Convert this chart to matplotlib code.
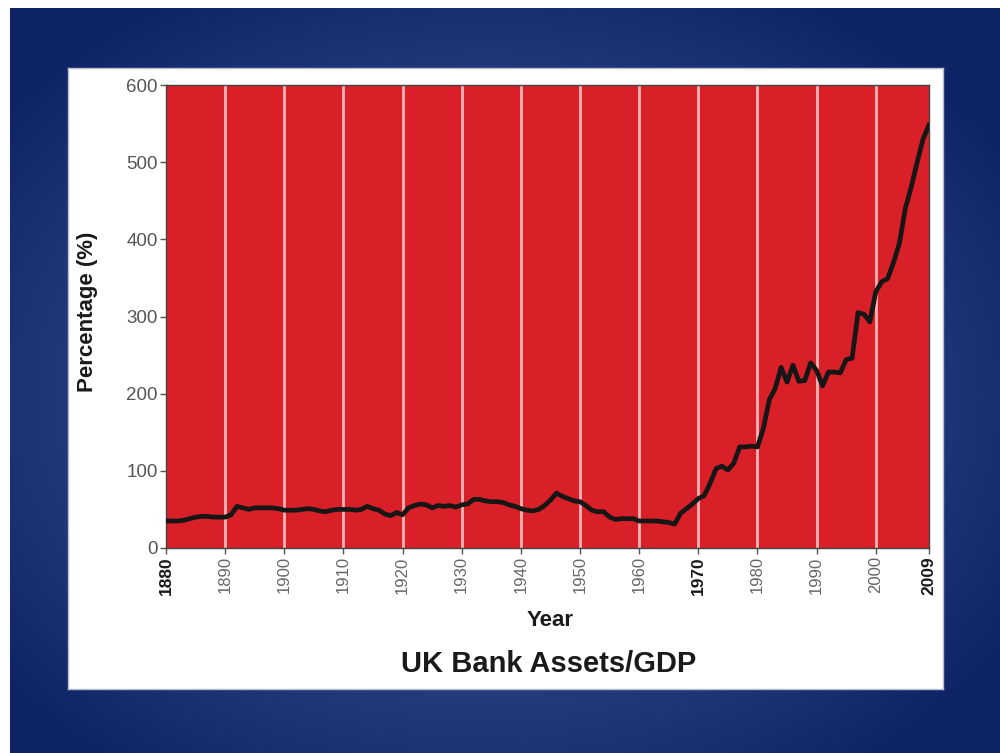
import numpy as np
import matplotlib
matplotlib.use("Agg")
import matplotlib.pyplot as plt

years = list(range(1880, 2010))
values = [
    35, 35, 35, 36, 38, 40, 41, 41, 40, 40,          # 1880-1889
    40, 43, 54, 52, 50, 52, 52, 52, 52, 51,          # 1890-1899
    49, 49, 49, 50, 51, 50, 48, 47, 49, 50,          # 1900-1909
    50, 50, 49, 50, 54, 51, 49, 44, 42, 46,          # 1910-1919
    43, 52, 55, 57, 56, 52, 55, 54, 55, 53,          # 1920-1929
    56, 57, 63, 63, 61, 60, 60, 59, 56, 54,          # 1930-1939
    51, 49, 48, 50, 55, 62, 71, 67, 64, 61,          # 1940-1949
    60, 55, 49, 47, 47, 40, 37, 38, 38, 38,          # 1950-1959
    35, 35, 35, 35, 34, 33, 31, 45, 51, 57,          # 1960-1969
    64, 68, 84, 103, 106, 101, 110, 131, 131, 132,   # 1970-1979
    131, 155, 192, 207, 234, 215, 237, 216, 217, 240,  # 1980-1989
    230, 210, 228, 228, 227, 244, 246, 305, 303, 293,  # 1990-1999
    332, 345, 349, 370, 395, 440, 468, 500, 530, 548,  # 2000-2009
]
xticks = [1880, 1890, 1900, 1910, 1920, 1930, 1940, 1950, 1960, 1970, 1980, 1990, 2000, 2009]
bold_ticks = {1880, 1970, 2009}
yticks = [0, 100, 200, 300, 400, 500, 600]

fig = plt.figure(figsize=(10, 7.53), dpi=100)
fig.patch.set_facecolor("white")

# blue gradient background
bg = fig.add_axes([0.010, 0.0, 0.990, 1 - 8 / 753])
bg.set_axis_off()
h, w = 300, 400
yy, xx = np.mgrid[0:h, 0:w]
cx, cy = w * 0.48, h * 0.52
r = np.sqrt(((xx - cx) / (w * 0.62)) ** 2 + ((yy - cy) / (h * 0.62)) ** 2)
r = np.clip(r, 0, 1)
c_in = np.array([0x4a, 0x66, 0xa8]) / 255
c_out = np.array([0x0e, 0x24, 0x66]) / 255
img = c_in[None, None, :] * (1 - r[..., None]) + c_out[None, None, :] * r[..., None]
bg.imshow(img, aspect="auto", extent=[0, 1, 0, 1])

# white panel
panel = fig.add_axes([0.068, 1 - 689 / 753, 0.875, (689 - 68) / 753])
panel.set_facecolor("white")
panel.set_xticks([])
panel.set_yticks([])
for s in panel.spines.values():
    s.set_edgecolor("#b8bccb")
    s.set_linewidth(1.0)

ax = fig.add_axes([0.166, 1 - 548 / 753, 0.763, (548 - 85) / 753])
ax.set_facecolor("#d91f27")
ax.set_xlim(1880, 2009)
ax.set_ylim(0, 600)
for x in xticks[1:-1]:
    ax.axvline(x, color="#f3b5b5", lw=2.0, zorder=1)
ax.plot(years, values, color="#161616", lw=3.4, solid_joinstyle="round", zorder=3)

ax.set_yticks(yticks)
ax.set_yticklabels([str(v) for v in yticks], fontsize=13.5, color="#555555", family="Liberation Sans")
ax.set_xticks(xticks)
ax.set_xticklabels([str(v) for v in xticks], rotation=90, fontsize=12, family="Liberation Sans")
for lbl, v in zip(ax.get_xticklabels(), xticks):
    if v in bold_ticks:
        lbl.set_fontweight("bold")
        lbl.set_color("#1a1a1a")
        lbl.set_fontsize(12.5)
    else:
        lbl.set_color("#666666")
ax.tick_params(axis="both", length=4, width=1, color="#555555", pad=2)
for s in ax.spines.values():
    s.set_edgecolor("#444444")
    s.set_linewidth(1.0)

fig.text(0.088, 1 - 312 / 753, "Percentage (%)", ha="center", va="center", rotation=90,
         fontsize=16, fontweight="bold", family="Liberation Sans", color="#1a1a1a")
fig.text(0.550, 1 - 620 / 753, "Year", ha="center", va="center", fontsize=16, fontweight="bold",
         family="Liberation Sans", color="#1a1a1a")
fig.text(0.549, 1 - 664 / 753, "UK Bank Assets/GDP", ha="center", va="center", fontsize=21,
         fontweight="bold", family="Liberation Sans", color="#1a1a1a")

fig.savefig("out.png", dpi=100, facecolor=fig.get_facecolor())
